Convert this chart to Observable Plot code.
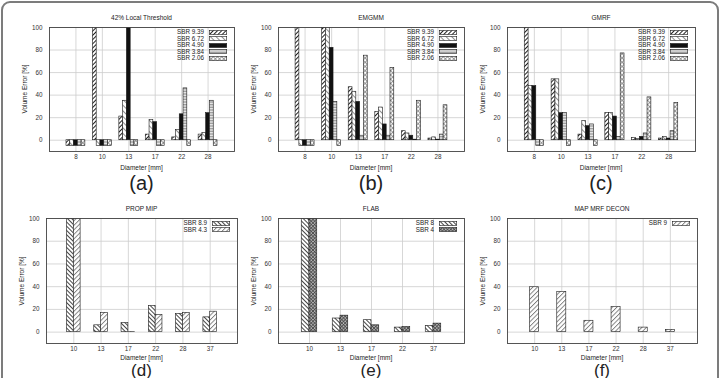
<!DOCTYPE html>
<html>
<head>
<meta charset="utf-8">
<script src="https://cdn.jsdelivr.net/npm/d3@7"></script>
<script src="https://cdn.jsdelivr.net/npm/@observablehq/plot@0.6"></script>
<style>
  body { margin: 0; width: 722px; height: 378px; overflow: hidden; background: #fff;
         font-family: "Liberation Sans", Arial, sans-serif; color: #222; position: relative; }
  #border { position: absolute; left: 1px; top: 1px; width: 718px; height: 430px; box-sizing: border-box;
            border: 2px solid #7c7c7c; border-radius: 9px; }
  .lbl { position: absolute; white-space: nowrap; line-height: 1; }
  .legend { position: absolute; font-size: 6.3px; line-height: 6.5px; color: #222; }
  .legend div { display: flex; justify-content: flex-end; align-items: center; height: 6.5px; }
  .legend svg { margin-left: 5px; display: block; }
</style>
</head>
<body>
<div id="border"></div>
<svg width="0" height="0" style="position:absolute">
  <defs>
    <pattern id="pat-fwd" width="3" height="3" patternUnits="userSpaceOnUse" patternTransform="rotate(45)">
      <rect width="3" height="3" fill="#fff"/><line x1="0.5" y1="0" x2="0.5" y2="3" stroke="#222" stroke-width="1"/>
    </pattern>
    <pattern id="pat-back" width="4" height="4" patternUnits="userSpaceOnUse" patternTransform="rotate(-45)">
      <rect width="4" height="4" fill="#fff"/><line x1="0.5" y1="0" x2="0.5" y2="4" stroke="#444" stroke-width="0.6"/>
    </pattern>
    <pattern id="pat-solid" width="4" height="4" patternUnits="userSpaceOnUse">
      <rect width="4" height="4" fill="#111"/>
    </pattern>
    <pattern id="pat-horiz" width="2" height="1.6" patternUnits="userSpaceOnUse">
      <rect width="2" height="1.6" fill="#fff"/><line x1="0" y1="0.5" x2="2" y2="0.5" stroke="#777" stroke-width="0.8"/>
    </pattern>
    <pattern id="pat-cross" width="3" height="3" patternUnits="userSpaceOnUse" patternTransform="rotate(45)">
      <rect width="3" height="3" fill="#fff"/>
      <line x1="0.5" y1="0" x2="0.5" y2="3" stroke="#777" stroke-width="0.7"/>
      <line x1="0" y1="0.5" x2="3" y2="0.5" stroke="#777" stroke-width="0.7"/>
    </pattern>
    <pattern id="pat-back2" width="3" height="3" patternUnits="userSpaceOnUse" patternTransform="rotate(-45)">
      <rect width="3" height="3" fill="#fff"/><line x1="0.5" y1="0" x2="0.5" y2="3" stroke="#333" stroke-width="0.9"/>
    </pattern>
    <pattern id="pat-fwd2" width="3.2" height="3.2" patternUnits="userSpaceOnUse" patternTransform="rotate(45)">
      <rect width="3.2" height="3.2" fill="#fff"/><line x1="0.5" y1="0" x2="0.5" y2="3.2" stroke="#555" stroke-width="0.7"/>
    </pattern>
    <pattern id="pat-dcross" width="2.4" height="2.4" patternUnits="userSpaceOnUse" patternTransform="rotate(45)">
      <rect width="2.4" height="2.4" fill="#bbb"/>
      <line x1="0.5" y1="0" x2="0.5" y2="2.4" stroke="#444" stroke-width="0.8"/>
      <line x1="0" y1="0.5" x2="2.4" y2="0.5" stroke="#444" stroke-width="0.8"/>
    </pattern>
  </defs>
</svg>
<div id="chart"></div>
<script>
// Volume error [%] per lesion diameter; one row per SBR series.
const yTicks = [0, 20, 40, 60, 80, 100];

const diamTop = [8, 10, 13, 17, 22, 28];
const sbrTop = ["SBR 9.39", "SBR 6.72", "SBR 4.90", "SBR 3.84", "SBR 2.06"];

const localThreshold = [
  [-5, 100, 21, 5, 2.5, 5],
  [-5, -5, 35, 18, 9, 6.5],
  [-5, -5, 100, 16, 23, 24],
  [-5, -5, -5, -5, 46, 35],
  [-5, -5, -5, -5, -5, -5]
];
const emgmm = [
  [100, 100, 47, 25, 8, 1.5],
  [-5, 100, 43, 29, 6, 2.5],
  [-5, 82, 34, 14, 4, 0.5],
  [-5, 34, 4, 4, 0.5, 5],
  [-5, -5, 75, 64, 35, 31]
];
const gmrf = [
  [100, 54, 5, 24, 2, 1.5],
  [48, 54, 17, 24, 1, 3],
  [48, 24, 12.5, 21, 3, 1.5],
  [-5, 24, 14, 3, 6, 8],
  [-5, -5, -5, 77, 38, 33]
];

const diamPropMip = [10, 13, 17, 22, 28, 37];
const sbrPropMip = ["SBR 8.9", "SBR 4.3"];
const propMip = [
  [100, 6, 8, 23, 16, 13],
  [100, 17, 0.3, 15, 17, 18]
];

const diamFlab = [10, 13, 17, 22, 37];
const sbrFlab = ["SBR 8", "SBR 4"];
const flab = [
  [100, 12, 10.5, 4, 5.5],
  [100, 14.5, 6, 4.5, 7.5]
];

const diamMapMrf = [10, 13, 17, 22, 28, 37];
const sbrMapMrf = ["SBR 9"];
const mapMrf = [
  [39.5, 35.5, 10, 22, 4, 2]
];

// Panel placement: frame = [left, top, right, bottom] in page pixels.
const panels = [
  {tag: "(a)", title: "42% Local Threshold", cats: diamTop, names: sbrTop, values: localThreshold,
   fills: ["fwd", "back", "solid", "horiz", "cross"], col: 0, row: 0, frame: [49, 27, 234, 151]},
  {tag: "(b)", title: "EMGMM", cats: diamTop, names: sbrTop, values: emgmm,
   fills: ["fwd", "back", "solid", "horiz", "cross"], col: 1, row: 0, frame: [278, 27, 464, 151]},
  {tag: "(c)", title: "GMRF", cats: diamTop, names: sbrTop, values: gmrf,
   fills: ["fwd", "back", "solid", "horiz", "cross"], col: 2, row: 0, frame: [507, 27, 695, 151]},
  {tag: "(d)", title: "PROP MIP", cats: diamPropMip, names: sbrPropMip, values: propMip,
   fills: ["back2", "fwd2"], col: 0, row: 1, frame: [46, 218, 237, 343]},
  {tag: "(e)", title: "FLAB", cats: diamFlab, names: sbrFlab, values: flab,
   fills: ["back2", "dcross"], col: 1, row: 1, frame: [278, 218, 464, 343]},
  {tag: "(f)", title: "MAP MRF DECON", cats: diamMapMrf, names: sbrMapMrf, values: mapMrf,
   fills: ["fwd2"], col: 2, row: 1, frame: [507, 218, 697, 343]}
];

const chart = document.getElementById("chart");

function label(parent, text, css) {
  const d = document.createElement("div");
  d.className = "lbl";
  d.textContent = text;
  d.style.cssText += css;
  parent.append(d);
  return d;
}

panels.forEach(p => {
  const [L, T, R, B] = p.frame;
  const x0 = p.col * 240, y0 = p.row * 190;
  const w = p.col === 2 ? 242 : 240;
  const h = p.row === 0 ? 190 : 188;
  const n = p.cats.length, m = p.names.length;
  const bw = 1 / (m + 2);  // clustered histogram: gap of two bar widths between groups

  const rows = [];
  p.values.forEach((vals, j) => vals.forEach((v, i) => rows.push({i, j, v})));

  const svg = Plot.plot({
    width: w, height: h,
    marginLeft: L - x0, marginRight: x0 + w - R,
    marginTop: T - y0, marginBottom: y0 + h - B,
    style: {fontFamily: "Liberation Sans, Arial, sans-serif", fontSize: "6.3px", color: "#333", background: "transparent", overflow: "visible"},
    x: {domain: [-1, n], ticks: d3.range(n), tickFormat: i => p.cats[i], tickSize: 0, tickPadding: 3, label: null},
    y: {domain: [-10, 100], ticks: yTicks, tickSize: 0, tickPadding: 7, label: null},
    marks: [
      Plot.ruleY(yTicks, {stroke: "#cdcdcd", strokeWidth: 0.8}),
      Plot.ruleX(d3.range(n), {stroke: "#cdcdcd", strokeWidth: 0.8}),
      ...p.names.map((name, j) => Plot.rect(rows.filter(r => r.j === j), {
        x1: r => r.i - (m * bw) / 2 + r.j * bw,
        x2: r => r.i - (m * bw) / 2 + (r.j + 1) * bw,
        y1: 0,
        y2: "v",
        fill: `url(#pat-${p.fills[j]})`,
        stroke: "#1a1a1a",
        strokeWidth: 0.6,
        clip: true
      })),
      Plot.frame({stroke: "#444", strokeWidth: 0.9})
    ]
  });

  const wrap = document.createElement("div");
  wrap.style.cssText = `position:absolute;left:${x0}px;top:${y0}px;width:${w}px;height:${h}px`;
  wrap.append(svg);
  chart.append(wrap);

  const cx = (L + R) / 2 - x0;
  const cy = (T + B) / 2 - y0;
  const top = p.row === 0;
  label(wrap, p.title, `left:${cx}px;top:${T - y0 - 9.5}px;font-size:6.5px;transform:translate(-50%,-50%)`);
  label(wrap, "Diameter [mm]", `left:${cx}px;top:${B - y0 + (top ? 16.5 : 14.5)}px;font-size:6.5px;transform:translate(-50%,-50%)`);
  label(wrap, "Volume Error [%]", `left:${L - x0 - 24}px;top:${cy}px;font-size:6.5px;transform:translate(-50%,-50%) rotate(-90deg)`);
  label(wrap, p.tag, `left:${cx}px;top:${B - y0 + (top ? 32 : 26.5)}px;font-size:${top ? 20 : 17}px;color:#222;transform:translate(-50%,-50%)`);

  // key in the top-right corner of the frame
  const legend = document.createElement("div");
  legend.className = "legend";
  legend.style.right = `${x0 + w - R + 7}px`;
  legend.style.top = `${T - y0 + 2}px`;
  p.names.forEach((name, j) => {
    const row = document.createElement("div");
    const t = document.createElement("span");
    t.textContent = name;
    row.append(t);
    const sw = d3.create("svg").attr("width", 18).attr("height", 5);
    sw.append("rect").attr("x", 0.3).attr("y", 0.5).attr("width", 17.4).attr("height", 4)
      .attr("fill", `url(#pat-${p.fills[j]})`).attr("stroke", "#1a1a1a").attr("stroke-width", 0.6);
    row.append(sw.node());
    legend.append(row);
  });
  wrap.append(legend);
});
</script>
</body>
</html>
